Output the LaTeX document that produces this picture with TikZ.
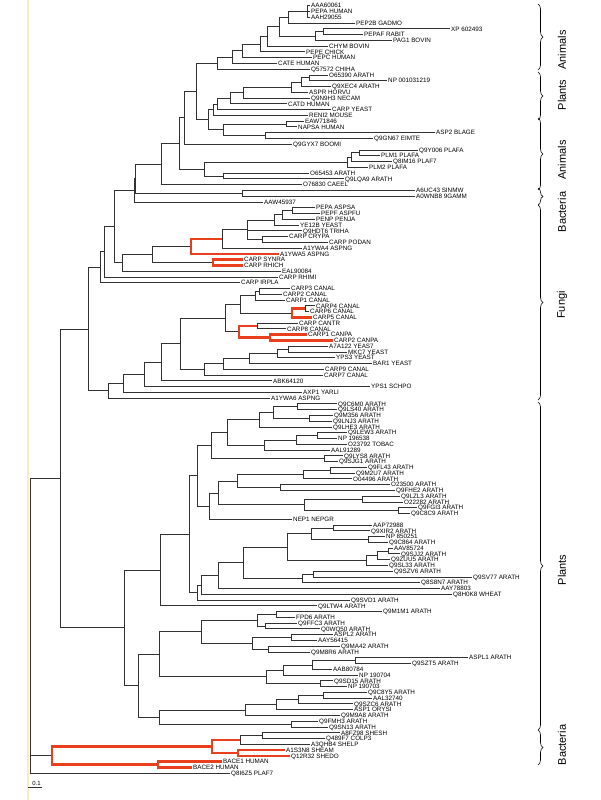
\documentclass[tikz,border=0pt]{standalone}
\usepackage{fontspec}
\setmainfont{Liberation Sans}
\usetikzlibrary{decorations.pathreplacing}
\definecolor{hilite}{RGB}{232,64,28}
\definecolor{margin}{RGB}{253,232,200}
\definecolor{branch}{RGB}{50,50,50}
\tikzset{
  br/.style={draw=branch, line width=0.9pt},
  hl/.style={draw=hilite, line width=2.6pt},
  leaf/.style={anchor=west, inner xsep=1pt, inner ysep=0pt, text height=4.4pt, text depth=0pt,
    font=\fontsize{6.3}{6.3}\selectfont},
  group/.style={rotate=90, inner sep=0pt, font=\fontsize{11}{11}\selectfont},
  grpbrace/.style={decorate, decoration={brace, amplitude=5pt}, line width=0.6pt}
}

\begin{document}
\begin{tikzpicture}[x=1pt,y=-5.77pt]
  % page and margin rule (pixel units)
  \begin{scope}[y=-1pt]
    \useasboundingbox (0,0) rectangle (600,800);
    \draw[margin, line width=1.5pt] (28,0) -- (28,800);
  \end{scope}

  % leaves: index / tip x / name
  \foreach \i/\x/\t in {1/310/AAA60061, 2/310/PEPA HUMAN, 3/310/AAH29055, 4/355/PEP2B GADMO,
      5/450/XP 602493, 6/363/PEPAF RABIT, 7/392/PAG1 BOVIN, 8/328/CHYM BOVIN, 9/305/PEPE CHICK,
      10/312/PEPC HUMAN, 11/277/CATE HUMAN, 12/310/Q57572 CHIHA, 13/328/O65390 ARATH,
      14/387/NP 001031219, 15/331/Q9XEC4 ARATH, 16/308/ASPR HORVU, 17/310/Q9N9H3 NECAM,
      18/287/CATD HUMAN, 19/331/CARP YEAST, 20/308/RENI2 MOUSE, 21/304/EAW71846,
      22/297/NAPSA HUMAN, 23/435/ASP2 BLAGE, 24/373/Q9GN67 EIMTE, 25/292/Q9GYX7 BOOMI,
      26/418/Q9Y006 PLAFA, 27/380/PLM1 PLAFA, 28/392/Q8IM16 PLAF7, 29/368/PLM2 PLAFA,
      30/309/O65453 ARATH, 31/344/Q9LQA9 ARATH, 32/302/O76830 CAEEL, 33/415/A6UC43 SINMW,
      34/415/A0WNB8 9GAMM, 35/263/AAW45937, 36/315/PEPA ASPSA, 37/320/PEPF ASPFU,
      38/315/PENP PENJA, 39/299/YE12B YEAST, 40/302/Q9HDT6 TRIHA, 41/288/CARP CRYPA,
      42/328/CARP PODAN, 43/302/A1YWA4 ASPNG, 44/279/A1YWA5 ASPNG, 45/243/CARP SYNRA,
      46/243/CARP RHICH, 47/281/EAL90084, 48/278/CARP RHIMI, 49/240/CARP IRPLA,
      50/290/CARP3 CANAL, 51/282/CARP2 CANAL, 52/285/CARP1 CANAL, 53/315/CARP4 CANAL,
      54/309/CARP6 CANAL, 55/312/CARP5 CANAL, 56/298/CARP CANTR, 57/286/CARP8 CANAL,
      58/307/CARP1 CANPA, 59/333/CARP2 CANPA, 60/328/A7A122 YEAS7, 61/347/MKC7 YEAST,
      62/335/YPS3 YEAST, 63/372/BAR1 YEAST, 64/324/CARP9 CANAL, 65/323/CARP7 CANAL,
      66/272/ABK64120, 67/370/YPS1 SCHPO, 68/302/AXP1 YARLI, 69/270/A1YWA6 ASPNG,
      70/337/Q9C6M0 ARATH, 71/337/Q9LS40 ARATH, 72/333/Q9M356 ARATH, 73/332/Q9LNJ3 ARATH,
      74/332/Q9LHE3 ARATH, 75/347/Q9LEW3 ARATH, 76/337/NP 196538, 77/347/O23792 TOBAC,
      78/330/AAL91289, 79/343/Q9LYS8 ARATH, 80/338/Q9SJG1 ARATH, 81/367/Q9FL43 ARATH,
      82/355/Q9M2U7 ARATH, 83/352/O04496 ARATH, 84/390/O23500 ARATH, 85/395/Q9FHE2 ARATH,
      86/400/Q9LZL3 ARATH, 87/403/O22282 ARATH, 88/417/Q9FGI3 ARATH, 89/410/Q9C8C9 ARATH,
      90/292/NEP1 NEPGR, 91/372/AAP72988, 92/370/Q9XIR2 ARATH, 93/385/NP 850251,
      94/388/Q9C864 ARATH, 95/393/AAV85724, 96/400/Q9SJJ2 ARATH, 97/390/Q9ZUU5 ARATH,
      98/388/Q9SL33 ARATH, 99/393/Q9SZV6 ARATH, 100/472/Q9SV77 ARATH, 101/420/Q8S8N7 ARATH,
      102/440/AAY78803, 103/452/Q8H0K8 WHEAT, 104/350/Q9SVD1 ARATH, 105/317/Q9LTW4 ARATH,
      106/382/Q9M1M1 ARATH, 107/295/FPD6 ARATH, 108/297/Q9FFC3 ARATH, 109/320/Q0WQ50 ARATH,
      110/333/ASPL2 ARATH, 111/317/AAY56415, 112/340/Q9MA42 ARATH, 113/310/Q9M8R6 ARATH,
      114/468/ASPL1 ARATH, 115/411/Q9SZT5 ARATH, 116/332/AAB80784, 117/358/NP 190704,
      118/333/Q9SD15 ARATH, 119/347/NP 190703, 120/367/Q9C8Y5 ARATH, 121/372/AAL32740,
      122/353/Q9SZC6 ARATH, 123/353/ASP1 ORYSI, 124/340/Q9M9A8 ARATH, 125/318/Q9FMH3 ARATH,
      126/328/Q9SN13 ARATH, 127/340/A8FZ98 SHESH, 128/325/Q489F7 COLP3, 129/310/A3QHB4 SHELP,
      130/285/A1S3N8 SHEAM, 131/290/Q12R32 SHEDO, 132/222/BACE1 HUMAN, 133/192/BACE2 HUMAN,
      134/230/Q8I6Z5 PLAF7}
    \node[leaf] (l\i) at (\x,\i) {\t};

  % internal nodes: x in px, y in leaf rows
  \foreach \n/\x/\y in {A/307/2, B/288/3, E/323/5.5, D/315/6.25, C/279/4.625, F/267/6.3125,
      G/260/7.656, H/242/8.828, I/232/9.914, J/217/10.957, M1/309/13.5, M2/301/14.25,
      M3/291/15.125, M4/243/16.0625, M5/230/17.031, M6/217/18.016, M7/213/19.008,
      N1/286/21.5, N2/265/23.5, N3/223/22.5, N4/208/20.754, K/196/15.855, P/184/20.43,
      S1/359/26.5, S2/351/27.25, S3/347/28.125, T/223/30.5, R/204/29.31, Q/179/24.87,
      U/161/28.44, V/242/33.5, W0/135.5/30.97, W/134.5/32.985,
      X1/292/36.5, X2/282/37.25, X3/274/38.125, X4/262/41.5, X5/247/39.81, X6/222/41.41,
      X7/191/42.7, X9/213/45.5, X8/152/44.1, X10/122/45.55, X11/114/39.27, X12/104/43.63,
      X13/100/46.32, C1/259/50.5, C2/255/51.25, C4/305/53.5, C5/292/54.25, C3/240/52.75,
      C6/257/56.5, C7/270/58.5, C8/239/57.5, C9/225/55.125, Z9/288/60.5, Z8/277/61.25,
      Z7/249/62.125, Z6/223/63.06, Z5/204/64.03, Z4/180/59.58, Z3/161/62.79, Z2/144/64.9,
      Z1/123/66.45, Z/108/67.72, X14/88/57.02,
      PU8/297/70.5, PU9/309/72.5, PU7/273/71.5, PU5/259/72.75, PU10/317/75.5, PU11/296/76.25,
      PU6/264/77.125, PU3/227/74.94, PU4/324/79.5, PU1/211/77.22, PU17/330/81.5,
      PU15/303/82.25, PU16/280/84.5, PU13/237/83.375, PU18/362/86.5, PU19/398/88.5,
      PU14/304/87.5, PU12/218/85.44, PU2/209/87.72, PU/197/82.47,
      PEa/333/91.5, PEb/368/93.5, PE1/311/92.5, PE5/388/95.5, PE6/377/96.25, PE3/366/97.125,
      PE2/287/94.81, PE9/313/99.5, PE8/302/100.25, PE7/243/97.53, PE10/218/99.77,
      PE11/201/101.38, PE12/197/102.69, PA1/189/92.58, PA/160/98.79,
      PB7/276/106.5, PB8/265/108.5, PB5/257/107.5, PB9/291/110.5, PB10/268/112.5,
      PB6/252/111.5, PB3/201/109.5, PB14/355/114.5, PB13/312/115.25, PB11/283/116.125,
      PB12/320/118.5, PB4/266/117.31, PB1/159/113.41, PB19/323/120.5, PB18/298/121.25,
      PB17/276/122.125, PB15/245/123.06, PB16/291/125.5, PB2/159/124.28, PB/138/118.85,
      PL/124/108.82, ROOT2/60/82.92,
      RB2/262/127.5, RB3/240/128.25, RB4/238/130.5, RB0/212/129.375, BA/158/132.5,
      RED/52/130.94, ROOT/30/82.92}
    \coordinate (\n) at (\x,\y);

  % branches
  \foreach \p/\c in {A/l1.west, A/l2.west, A/l3.west, B/A, B/l4.west, E/l5.west, E/l6.west,
      D/E, D/l7.west, C/B, C/D, F/C, F/l8.west, G/F, G/l9.west, H/G, H/l10.west, I/H,
      I/l11.west, J/I, J/l12.west, M1/l13.west, M1/l14.west, M2/M1, M2/l15.west, M3/M2,
      M3/l16.west, M4/M3, M4/l17.west, M5/M4, M5/l18.west, M6/M5, M6/l19.west, M7/M6,
      M7/l20.west, N1/l21.west, N1/l22.west, N2/l23.west, N2/l24.west, N3/N1, N3/N2,
      N4/M7, N4/N3, K/J, K/N4, P/K, P/l25.west, S1/l26.west, S1/l27.west, S2/S1,
      S2/l28.west, S3/S2, S3/l29.west, T/l30.west, T/l31.west, R/S3, R/T, Q/P, Q/R, U/Q,
      U/l32.west, V/l33.west, V/l34.west, W0/U, W0/V, W/W0, W/l35.west,
      X1/l36.west, X1/l37.west, X2/X1, X2/l38.west, X3/X2, X3/l39.west, X4/l41.west,
      X4/l42.west, X5/X3, X5/l40.west, X5/X4, X6/X5, X6/l43.west, X8/X7, X8/X9, X10/X8,
      X10/l47.west, X11/W, X11/X10, X12/X11, X12/l48.west, X13/X12, X13/l49.west,
      C1/l50.west, C1/l51.west, C2/C1, C2/l52.west, C4/l53.west, C4/l54.west, C3/C2, C3/C5,
      C6/l56.west, C6/l57.west, C9/C3, C9/C8, Z9/l60.west, Z9/l61.west, Z8/Z9, Z8/l62.west,
      Z7/Z8, Z7/l63.west, Z6/Z7, Z6/l64.west, Z5/Z6, Z5/l65.west, Z4/C9, Z4/Z5, Z3/Z4,
      Z3/l66.west, Z2/Z3, Z2/l67.west, Z1/Z2, Z1/l68.west, Z/Z1, Z/l69.west, X14/X13, X14/Z,
      PU8/l70.west, PU8/l71.west, PU9/l72.west, PU9/l73.west, PU7/PU8, PU7/PU9, PU5/PU7,
      PU5/l74.west, PU10/l75.west, PU10/l76.west, PU11/PU10, PU11/l77.west, PU6/PU11,
      PU6/l78.west, PU3/PU5, PU3/PU6, PU4/l79.west, PU4/l80.west, PU1/PU3, PU1/PU4,
      PU17/l81.west, PU17/l82.west, PU15/PU17, PU15/l83.west, PU16/l84.west, PU16/l85.west,
      PU13/PU15, PU13/PU16, PU18/l86.west, PU18/l87.west, PU19/l88.west, PU19/l89.west,
      PU14/PU18, PU14/PU19, PU12/PU13, PU12/PU14, PU2/PU12, PU2/l90.west, PU/PU1, PU/PU2,
      PEa/l91.west, PEa/l92.west, PEb/l93.west, PEb/l94.west, PE1/PEa, PE1/PEb,
      PE5/l95.west, PE5/l96.west, PE6/PE5, PE6/l97.west, PE3/PE6, PE3/l98.west, PE2/PE1,
      PE2/PE3, PE9/l99.west, PE9/l100.west, PE8/PE9, PE8/l101.west, PE7/PE2, PE7/PE8,
      PE10/PE7, PE10/l102.west, PE11/PE10, PE11/l103.west, PE12/PE11, PE12/l104.west,
      PA1/PU, PA1/PE12, PA/PA1, PA/l105.west,
      PB7/l106.west, PB7/l107.west, PB8/l108.west, PB8/l109.west, PB5/PB7, PB5/PB8,
      PB9/l110.west, PB9/l111.west, PB10/l112.west, PB10/l113.west, PB6/PB9, PB6/PB10,
      PB3/PB5, PB3/PB6, PB14/l114.west, PB14/l115.west, PB13/PB14, PB13/l116.west,
      PB11/PB13, PB11/l117.west, PB12/l118.west, PB12/l119.west, PB4/PB11, PB4/PB12,
      PB1/PB3, PB1/PB4, PB19/l120.west, PB19/l121.west, PB18/PB19, PB18/l122.west,
      PB17/PB18, PB17/l123.west, PB15/PB17, PB15/l124.west, PB16/l125.west, PB16/l126.west,
      PB2/PB15, PB2/PB16, PB/PB1, PB/PB2, PL/PA, PL/PB, ROOT2/X14, ROOT2/PL,
      RB2/l127.west, RB2/l128.west, RB3/RB2, RB3/l129.west, ROOT/ROOT2, ROOT/RED,
      ROOT/l134.west}
    \draw[br] (\p) |- (\c);

  % highlighted branches
  \foreach \p/\c in {X7/X6, X7/l44.west, X9/l45.west, X9/l46.west, C5/C4, C5/l55.west,
      C8/C6, C8/C7, C7/l58.west, C7/l59.west, RB4/l130.west, RB4/l131.west, RB0/RB3,
      RB0/RB4, BA/l132.west, BA/l133.west, RED/RB0, RED/BA}
    \draw[hl] (\p) |- (\c);

  % groups and scale bar (pixel units)
  \begin{scope}[y=-1pt]
    \foreach \a/\b/\m/\t in {4/70/50/Animals, 72/120/95/Plants, 118/190/160/Animals,
        188/205/212/Bacteria, 205/400/305/Fungi, 402/730/570/Plants, 730/765/745/Bacteria}
    {
      \draw[grpbrace] (538,\a) -- (538,\b);
      \node[group] (g\a) at (562,\m) {\t};
    }
    \draw[br, line width=0.6pt] (28,787) -- (42,787);
    \node[font=\fontsize{6}{6}\selectfont, inner sep=0pt] (scale) at (36.5,783) {0.1};
  \end{scope}
\end{tikzpicture}
\end{document}
